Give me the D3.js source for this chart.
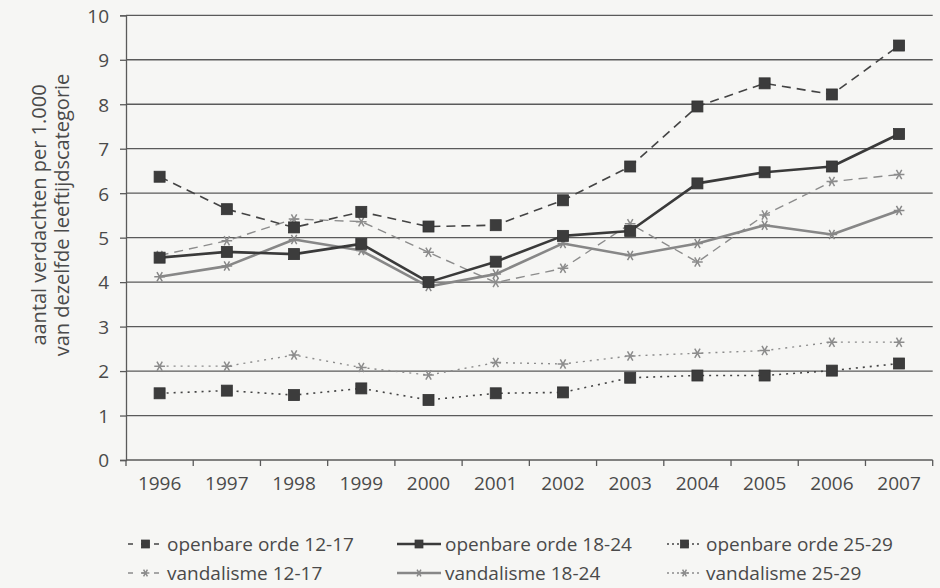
<!DOCTYPE html>
<html>
<head>
<meta charset="utf-8">
<script src="https://cdn.jsdelivr.net/npm/d3@7"></script>
<style>
  html, body { margin: 0; padding: 0; background: #f6f6f4; }
  svg { display: block; }
  text { font-family: "Open Sans", sans-serif; fill: #4a4a4a; }
</style>
</head>
<body>
<svg id="chart" width="940" height="588"></svg>
<script>
const years = ["1996","1997","1998","1999","2000","2001","2002","2003","2004","2005","2006","2007"];
const yTicks = [0,1,2,3,4,5,6,7,8,9,10];
const openbare1217 = [6.37,5.64,5.23,5.58,5.25,5.28,5.84,6.60,7.95,8.47,8.22,9.32];
const openbare1824 = [4.55,4.68,4.63,4.86,4.00,4.46,5.04,5.15,6.22,6.47,6.60,7.33];
const openbare2529 = [1.50,1.56,1.46,1.61,1.35,1.50,1.52,1.85,1.90,1.90,2.01,2.17];
const vandalisme1217 = [4.60,4.93,5.42,5.36,4.67,3.99,4.31,5.31,4.45,5.51,6.26,6.42];
const vandalisme1824 = [4.12,4.36,4.96,4.71,3.90,4.18,4.87,4.60,4.87,5.28,5.07,5.61];
const vandalisme2529 = [2.11,2.11,2.36,2.08,1.91,2.19,2.16,2.34,2.40,2.46,2.65,2.65];
const seriesNames = ["openbare orde 12-17","openbare orde 18-24","openbare orde 25-29","vandalisme 12-17","vandalisme 18-24","vandalisme 25-29"];
const yTitle = ["aantal verdachten per 1.000","van dezelfde leeftijdscategorie"];

const series = [
  {name: seriesNames[0], values: openbare1217, color: "#444444", width: 1.6, dash: "9,6", marker: "square"},
  {name: seriesNames[1], values: openbare1824, color: "#3a3a3a", width: 2.6, dash: null, marker: "square"},
  {name: seriesNames[2], values: openbare2529, color: "#444444", width: 1.6, dash: "2,5", marker: "square"},
  {name: seriesNames[3], values: vandalisme1217, color: "#8c8c8c", width: 1.4, dash: "9,6", marker: "star"},
  {name: seriesNames[4], values: vandalisme1824, color: "#878787", width: 2.6, dash: null, marker: "star"},
  {name: seriesNames[5], values: vandalisme2529, color: "#8c8c8c", width: 1.4, dash: "2,5", marker: "star"}
];

const svg = d3.select("#chart");
const plotLeft = 126, plotRight = 932.7, plotTop = 15.3, plotBottom = 460;

const x = d3.scaleBand().domain(years).range([plotLeft, plotRight]).paddingInner(0).paddingOuter(0);
const y = d3.scaleLinear().domain([0, 10]).range([plotBottom, plotTop]);

// gridlines
svg.append("g").selectAll("line").data(yTicks.filter(d => d > 0)).join("line")
  .attr("x1", plotLeft).attr("x2", plotRight)
  .attr("y1", d => y(d)).attr("y2", d => y(d))
  .attr("stroke", "#5a5a5a").attr("stroke-width", 1.3);

// y axis
const yAxis = svg.append("g").attr("transform", `translate(${plotLeft},0)`)
  .call(d3.axisLeft(y).tickValues(yTicks).tickSize(6).tickPadding(11).tickFormat(d3.format("d")));
yAxis.select(".domain").attr("stroke", "#5a5a5a").attr("stroke-width", 1.3);
yAxis.selectAll(".tick line").attr("stroke", "#5a5a5a").attr("stroke-width", 1.3);
yAxis.selectAll(".tick text").attr("font-size", 19).attr("font-family", "'Open Sans', sans-serif").attr("fill", "#4a4a4a").attr("dy", "0.36em");

// x axis line
svg.append("line").attr("x1", plotLeft).attr("x2", plotRight).attr("y1", plotBottom).attr("y2", plotBottom)
  .attr("stroke", "#5a5a5a").attr("stroke-width", 1.3);
// x ticks at band boundaries
const boundaries = years.map(d => x(d)).concat([x(years[years.length-1]) + x.bandwidth()]);
svg.append("g").selectAll("line").data(boundaries).join("line")
  .attr("x1", d => d).attr("x2", d => d).attr("y1", plotBottom).attr("y2", plotBottom + 6)
  .attr("stroke", "#5a5a5a").attr("stroke-width", 1.3);
svg.append("g").selectAll("text").data(years).join("text")
  .attr("x", d => x(d) + x.bandwidth()/2).attr("y", 490)
  .attr("text-anchor", "middle").attr("font-size", 19).text(d => d);

// y title
const yt = svg.append("text").attr("transform", "translate(0,215) rotate(-90)").attr("text-anchor", "middle").attr("font-size", 20);
yt.append("tspan").attr("x", 0).attr("y", 46).text(yTitle[0]);
yt.append("tspan").attr("x", 0).attr("y", 69).text(yTitle[1]);

const cx = d => x(d) + x.bandwidth()/2;

function drawMarker(g, type, color, px, py, scale) {
  if (type === "square") {
    const s = 11 * scale;
    g.append("rect").attr("x", px - s/2).attr("y", py - s/2).attr("width", s).attr("height", s)
      .attr("fill", "#3c3c3c").attr("stroke", "#333").attr("stroke-width", 0.8);
  } else {
    g.append("path").attr("d", d3.symbol().type(d3.symbolAsterisk).size(80 * scale * scale)())
      .attr("transform", `translate(${px},${py}) rotate(90)`)
      .attr("fill", "none").attr("stroke", color).attr("stroke-width", 1.5);
  }
}

const line = d3.line().x((d, i) => cx(years[i])).y(d => y(d));
// draw order: dotted, dashed, solid on top
const order = [5, 2, 3, 0, 4, 1];
order.forEach(k => {
  const s = series[k];
  const g = svg.append("g");
  g.append("path").attr("d", line(s.values)).attr("fill", "none")
    .attr("stroke", s.color).attr("stroke-width", s.width)
    .attr("stroke-dasharray", s.dash).attr("stroke-linejoin", "round");
  s.values.forEach((v, i) => drawMarker(g, s.marker, s.color, cx(years[i]), y(v), 1));
});

// legend
const legendPos = [
  {x: 128, y: 544}, {x: 397, y: 544}, {x: 667, y: 544},
  {x: 128, y: 573}, {x: 397, y: 573}, {x: 667, y: 573}
];
series.forEach((s, k) => {
  const p = legendPos[k];
  const g = svg.append("g");
  const w = k % 3 === 1 ? 44 : 35;
  g.append("line").attr("x1", p.x).attr("x2", p.x + w).attr("y1", p.y).attr("y2", p.y)
    .attr("stroke", s.color).attr("stroke-width", s.width)
    .attr("stroke-dasharray", s.dash ? (s.dash === "2,5" ? "2,3" : "5,8") : null);
  drawMarker(g, s.marker, s.color, p.x + w/2, p.y, 0.72);
  g.append("text").attr("x", p.x + w + 4).attr("y", p.y).attr("dy", "0.35em")
    .attr("font-size", 19).text(s.name);
});
</script>
</body>
</html>
